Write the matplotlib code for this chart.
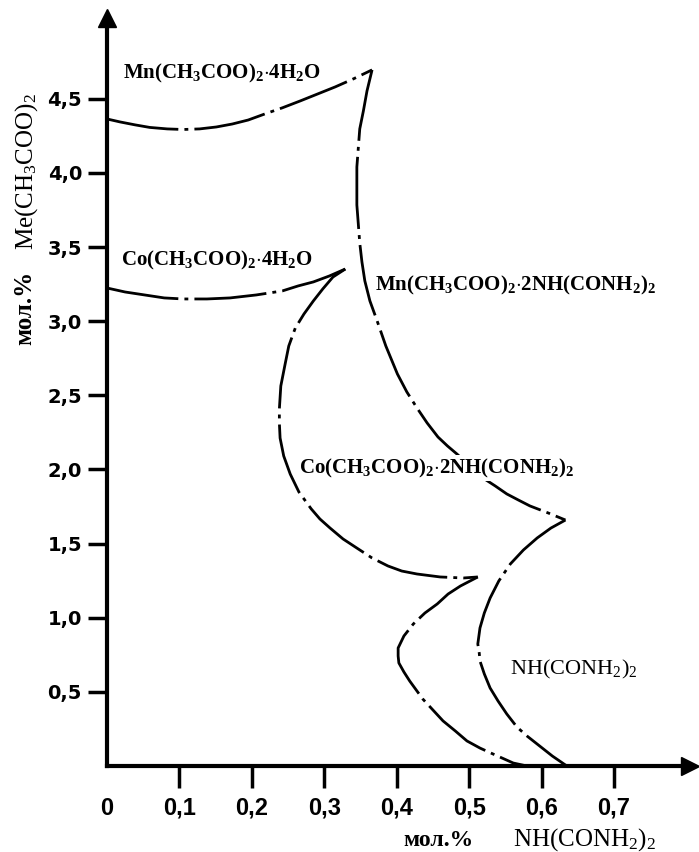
import matplotlib
matplotlib.use("Agg")
import matplotlib.pyplot as plt

# ликвидус Mn(CH3COO)2*4H2O
mn_hydrate_x = [0.0, 0.018, 0.039, 0.059, 0.083, 0.105, 0.128, 0.151, 0.173,
                0.195, 0.218, 0.242, 0.267, 0.291, 0.315, 0.340, 0.366]
mn_hydrate_y = [4.364, 4.344, 4.324, 4.307, 4.297, 4.293, 4.297, 4.310, 4.330,
                4.357, 4.398, 4.439, 4.486, 4.533, 4.580, 4.634, 4.695]

# ликвидус Mn(CH3COO)2*2NH(CONH2)2
mn_biuret_x = [0.366, 0.359, 0.354, 0.349, 0.347, 0.345, 0.345, 0.345, 0.347,
               0.349, 0.352, 0.356, 0.363, 0.373, 0.385, 0.401, 0.414, 0.428,
               0.442, 0.457, 0.470, 0.483, 0.501, 0.519, 0.536, 0.552, 0.568,
               0.584, 0.609, 0.633]
mn_biuret_y = [4.695, 4.553, 4.418, 4.297, 4.169, 4.040, 3.912, 3.784, 3.656,
               3.528, 3.400, 3.272, 3.137, 3.002, 2.833, 2.644, 2.523, 2.415,
               2.314, 2.219, 2.159, 2.105, 2.024, 1.943, 1.889, 1.835, 1.794,
               1.754, 1.707, 1.659]

# ликвидус NH(CONH2)2 (система с Mn)
urea_mn_x = [0.633, 0.613, 0.594, 0.575, 0.557, 0.541, 0.529, 0.521, 0.515,
             0.512, 0.514, 0.515, 0.521, 0.529, 0.540, 0.552, 0.566, 0.580,
             0.594, 0.615, 0.635]
urea_mn_y = [1.659, 1.605, 1.538, 1.457, 1.363, 1.248, 1.133, 1.032, 0.931,
             0.823, 0.762, 0.708, 0.621, 0.526, 0.438, 0.351, 0.263, 0.202,
             0.148, 0.067, 0.0]

# ликвидус Co(CH3COO)2*4H2O
co_hydrate_x = [0.0, 0.025, 0.052, 0.079, 0.105, 0.138, 0.170, 0.206, 0.242,
                0.264, 0.285, 0.307, 0.329]
co_hydrate_y = [3.224, 3.197, 3.177, 3.157, 3.150, 3.150, 3.157, 3.177, 3.204,
                3.238, 3.265, 3.305, 3.352]

# ликвидус Co(CH3COO)2*2NH(CONH2)2
co_biuret_x = [0.329, 0.312, 0.298, 0.285, 0.272, 0.260, 0.251, 0.246, 0.240,
               0.238, 0.238, 0.239, 0.244, 0.253, 0.265, 0.282, 0.294, 0.308,
               0.326, 0.345, 0.366, 0.388, 0.407, 0.428, 0.460, 0.492, 0.512]
co_biuret_y = [3.352, 3.298, 3.218, 3.137, 3.049, 2.954, 2.833, 2.712, 2.563,
               2.408, 2.314, 2.212, 2.091, 1.969, 1.848, 1.734, 1.666, 1.605,
               1.531, 1.470, 1.403, 1.349, 1.315, 1.295, 1.275, 1.268, 1.275]

# ликвидус NH(CONH2)2 (система с Co)
urea_co_x = [0.512, 0.488, 0.471, 0.456, 0.439, 0.423, 0.410, 0.402, 0.402,
             0.403, 0.410, 0.418, 0.436, 0.450, 0.464, 0.481, 0.497, 0.515,
             0.533, 0.561, 0.580]
urea_co_y = [1.275, 1.214, 1.160, 1.093, 1.032, 0.958, 0.877, 0.796, 0.742,
             0.695, 0.634, 0.573, 0.452, 0.378, 0.304, 0.236, 0.169, 0.121,
             0.081, 0.020, 0.0]

x_ticks = [0, 0.1, 0.2, 0.3, 0.4, 0.5, 0.6, 0.7]
x_tick_labels = ["0", "0,1", "0,2", "0,3", "0,4", "0,5", "0,6", "0,7"]
y_ticks = [0.5, 1.0, 1.5, 2.0, 2.5, 3.0, 3.5, 4.0, 4.5]
y_tick_labels = ["0,5", "1,0", "1,5", "2,0", "2,5", "3,0", "3,5", "4,0", "4,5"]

plt.rcParams["mathtext.fontset"] = "custom"
plt.rcParams["mathtext.rm"] = "Liberation Serif"
plt.rcParams["mathtext.bf"] = "Liberation Serif:bold"
plt.rcParams["mathtext.it"] = "Liberation Serif:italic"

fig = plt.figure(figsize=(6.99, 8.52), dpi=100)
ax = fig.add_axes([107 / 699, 86 / 852, 583 / 699, 748 / 852])

line_style = dict(color="black", lw=2.0, linestyle=(0, (26, 2.2, 1.4, 2.2)),
                  dash_capstyle="butt", dash_joinstyle="round")
curves = [(mn_hydrate_x, mn_hydrate_y), (mn_biuret_x, mn_biuret_y),
          (urea_mn_x, urea_mn_y), (co_hydrate_x, co_hydrate_y),
          (co_biuret_x, co_biuret_y), (urea_co_x, urea_co_y)]
for xs, ys in curves:
    ax.plot(xs, ys, **line_style)

ax.set_xlim(0, 0.805)
ax.set_ylim(0, 5.045)

for side in ["top", "right"]:
    ax.spines[side].set_visible(False)
for side in ["left", "bottom"]:
    ax.spines[side].set_linewidth(3)

ax.set_xticks(x_ticks)
ax.set_xticklabels(x_tick_labels, family=["Liberation Sans Narrow", "Liberation Sans"],
                   fontweight="bold", fontsize=17)
ax.set_yticks(y_ticks)
ax.set_yticklabels(y_tick_labels, family="DejaVu Sans", fontweight="bold", fontsize=14)
ax.tick_params(axis="x", length=16, width=2.5, pad=6)
ax.tick_params(axis="y", length=14, width=2.5, pad=4)
ax.xaxis.get_major_ticks()[0].tick1line.set_visible(False)

# стрелки осей
ax.plot(0, 1, "^k", ms=13, transform=ax.get_xaxis_transform(), clip_on=False)
ax.plot(1, 0, ">k", ms=13, transform=ax.get_yaxis_transform(), clip_on=False)

ax.text(0.022, 4.67, r"$\mathbf{Mn(CH_3COO)_2{\cdot}4H_2O}$", fontsize=15, va="center")
ax.text(0.019, 3.41, r"$\mathbf{Co(CH_3COO)_2{\cdot}4H_2O}$", fontsize=15, va="center")
ax.text(0.370, 3.24, r"$\mathbf{Mn(CH_3COO)_2{\cdot}2NH(CONH_2)_2}$", fontsize=15, va="center")
ax.text(0.265, 2.01, r"$\mathbf{Co(CH_3COO)_2{\cdot}2NH(CONH_2)_2}$", fontsize=15, va="center",
        zorder=5, bbox=dict(facecolor="white", edgecolor="none", pad=1))
ax.text(0.557, 0.65, r"$\mathrm{NH(CONH_2)_2}$", fontsize=16, va="center")

fig.text(438 / 699, 1 - 840 / 852, "мол.%", family="Liberation Serif", fontweight="bold",
         fontsize=17, ha="center", va="center")
fig.text(585 / 699, 1 - 840 / 852, r"$\mathrm{NH(CONH_2)_2}$", fontsize=18,
         ha="center", va="center")
fig.text(27 / 699, 1 - 171 / 852, r"$\mathrm{Me(CH_3COO)_2}$", fontsize=18,
         rotation=90, ha="center", va="center")
fig.text(25 / 699, 1 - 308 / 852, "мол.%", family="Liberation Serif", fontweight="bold",
         fontsize=18, rotation=90, ha="center", va="center")

fig.savefig("out.png", dpi=100, facecolor="white")
